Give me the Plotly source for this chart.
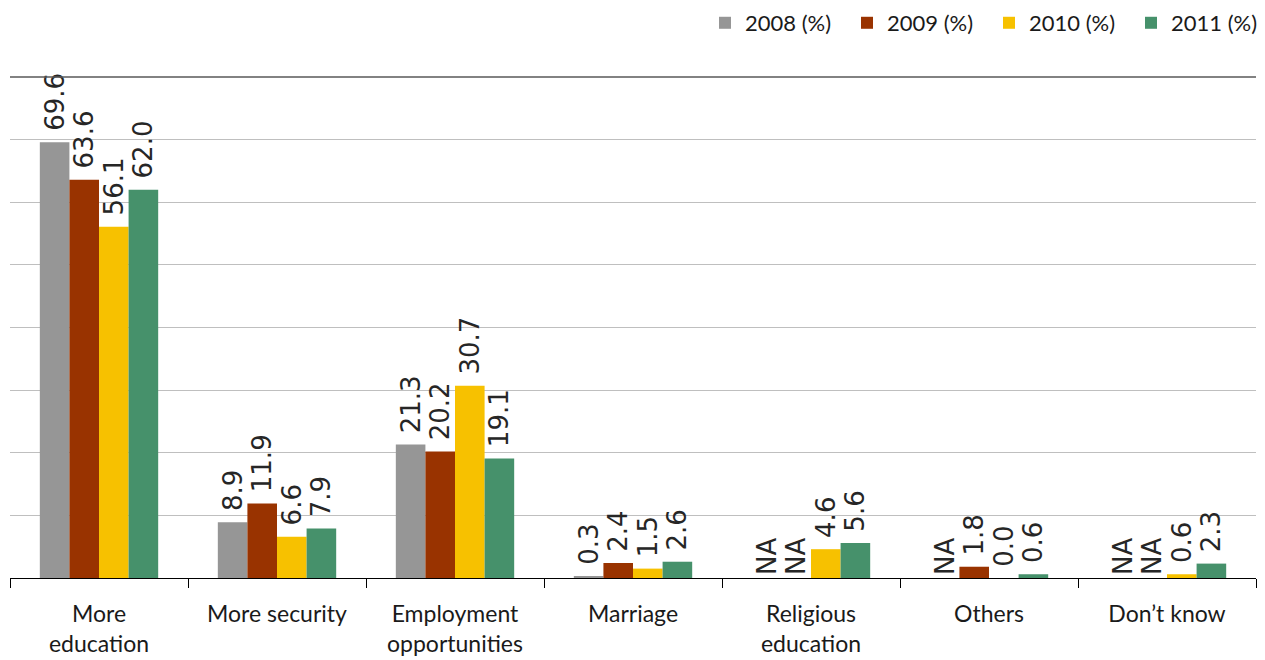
import plotly.graph_objects as go

categories = ["More<br>education", "More security", "Employment<br>opportunities",
              "Marriage", "Religious<br>education", "Others", "Don’t know"]

series_names = ["2008 (%)", "2009 (%)", "2010 (%)", "2011 (%)"]

# None marks a value that was not available (shown as "NA")
values_2008 = [69.6, 8.9, 21.3, 0.3, None, None, None]
values_2009 = [63.6, 11.9, 20.2, 2.4, None, 1.8, None]
values_2010 = [56.1, 6.6, 30.7, 1.5, 4.6, 0.0, 0.6]
values_2011 = [62.0, 7.9, 19.1, 2.6, 5.6, 0.6, 2.3]

colors = ["#969696", "#993300", "#F7C100", "#46916B"]


def label(v):
    # a leading no-break space keeps numeric labels a little clear of the bar top
    return "NA" if v is None else "\u00a0" + f"{v:.1f}"


fig = go.Figure()
for name, vals, col in zip(series_names,
                           [values_2008, values_2009, values_2010, values_2011],
                           colors):
    fig.add_trace(go.Bar(
        x=categories,
        y=[0 if v is None else v for v in vals],
        name=name,
        marker=dict(color=col, line=dict(width=0)),
        text=[label(v) for v in vals],
        textposition="outside",
        textangle=-90,
        constraintext="none",
        textfont=dict(family="DejaVu Sans", size=26, color="#262626"),
        cliponaxis=False,
    ))

fig.update_layout(
    barmode="group",
    bargap=0.335,
    bargroupgap=0,
    width=1265,
    height=660,
    margin=dict(l=10, r=9, t=77, b=82, autoexpand=False),
    plot_bgcolor="white",
    paper_bgcolor="white",
    legend=dict(
        orientation="h",
        x=(705 - 10) / 1246, xanchor="left",
        y=0.997, yanchor="top",
        yref="container",
        font=dict(family="Lato", size=22, color="#1a1a1a"),
        itemwidth=30,
        entrywidth=97,
        entrywidthmode="pixels",
        traceorder="normal",
    ),
    showlegend=True,
)

fig.update_xaxes(
    showline=True, linecolor="black", linewidth=1.2,
    ticks="outside", tickson="boundaries", ticklen=9, tickcolor="black",
    tickfont=dict(family="Lato", size=23, color="#1a1a1a"),
    ticklabelstandoff=15,
    automargin=False,
    showgrid=False,
)
fig.update_yaxes(
    range=[0, 80], dtick=10,
    showgrid=True, gridcolor="#BFBFBF", gridwidth=1.3,
    showticklabels=False, zeroline=False, ticks="",
    automargin=False,
)

# darker rule along the top of the plotting area
fig.add_shape(type="line", xref="paper", yref="paper", x0=0, x1=1, y0=1, y1=1,
              line=dict(color="#595959", width=1.5))

fig.write_html("out.html")
